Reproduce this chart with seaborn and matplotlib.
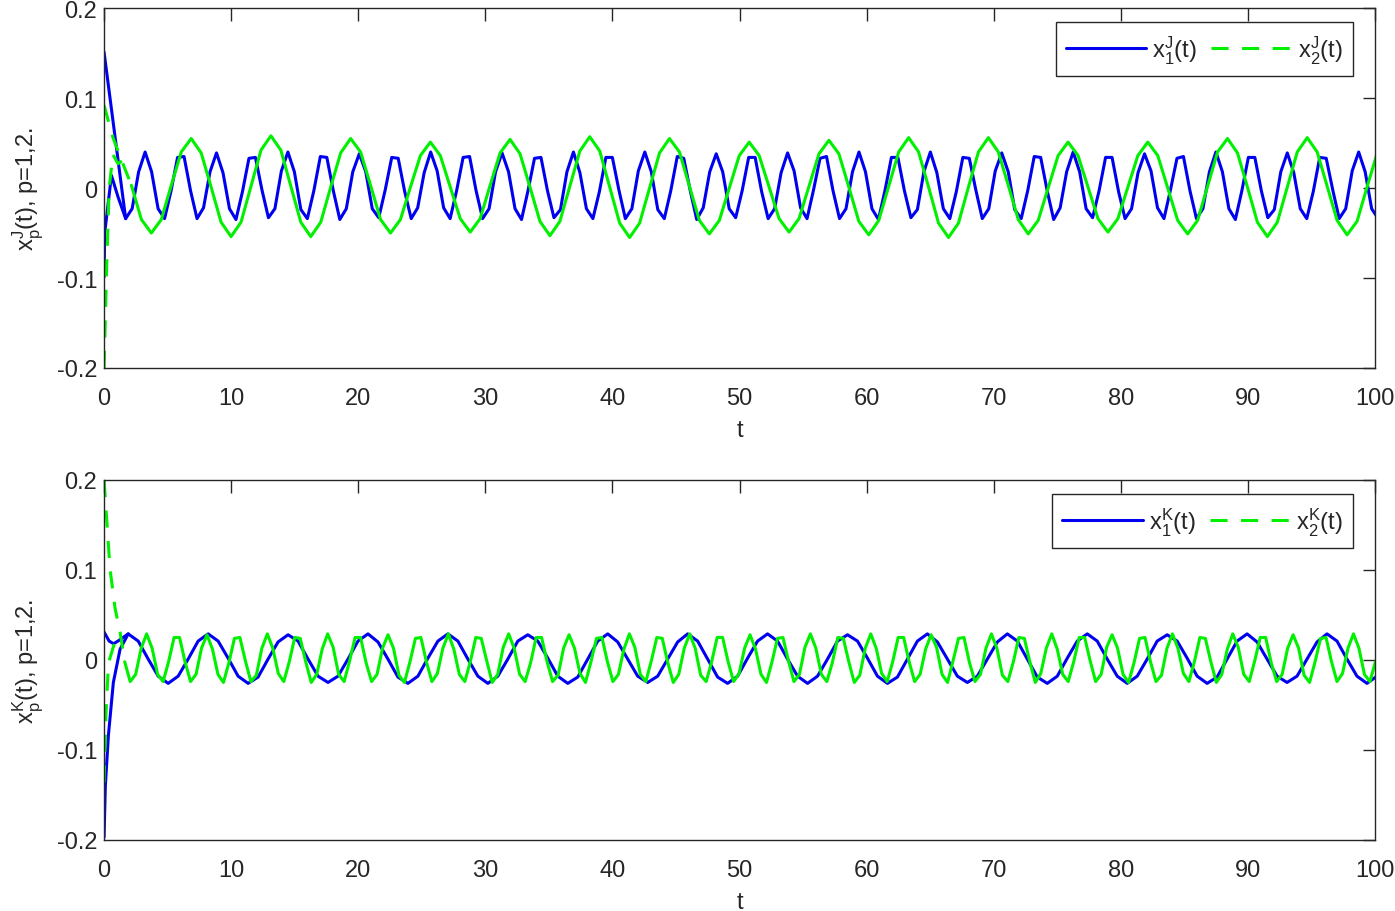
import numpy as np
import matplotlib
matplotlib.use("Agg")
import matplotlib.pyplot as plt
import seaborn as sns
from matplotlib.lines import Line2D

# ---------------- top panel: x^J ----------------
# x1^J: start of the run, then regular samples (BJ_T0 + k * BJ_STEP)
BJ_START_T = [0.0, 0.85]
BJ_START_X = [0.151, 0.058]
BJ_T0, BJ_STEP = 1.698, 0.5106
BJ_X = [
    -0.034, -0.023, 0.018,
    0.040, 0.018, -0.023, -0.034, -0.003, 0.034, 0.035, -0.003, -0.034, -0.022, 0.018,
    0.039, 0.017, -0.023, -0.035, -0.004, 0.033, 0.034, -0.002, -0.033, -0.023, 0.019,
    0.040, 0.018, -0.024, -0.034, -0.003, 0.035, 0.034, -0.003, -0.035, -0.023, 0.018,
    0.038, 0.018, -0.023, -0.033, -0.002, 0.034, 0.033, -0.004, -0.034, -0.022, 0.017,
    0.040, 0.019, -0.022, -0.034, -0.003, 0.034, 0.035, -0.003, -0.034, -0.023, 0.018,
    0.039, 0.018, -0.023, -0.035, -0.003, 0.033, 0.034, -0.003, -0.033, -0.024, 0.018,
    0.040, 0.017, -0.023, -0.034, -0.004, 0.034, 0.034, -0.002, -0.034, -0.023, 0.019,
    0.040, 0.018, -0.024, -0.034, -0.003, 0.035, 0.033, -0.003, -0.035, -0.022, 0.018,
    0.038, 0.018, -0.023, -0.033, -0.003, 0.034, 0.034, -0.004, -0.034, -0.023, 0.017,
    0.039, 0.019, -0.022, -0.034, -0.002, 0.033, 0.035, -0.003, -0.034, -0.023, 0.018,
    0.040, 0.018, -0.023, -0.035, -0.003, 0.034, 0.034, -0.003, -0.033, -0.024, 0.018,
    0.040, 0.017, -0.023, -0.034, -0.004, 0.034, 0.033, -0.002, -0.034, -0.023, 0.019,
    0.039, 0.018, -0.024, -0.034, -0.003, 0.035, 0.034, -0.003, -0.035, -0.022, 0.018,
    0.040, 0.018, -0.023, -0.033, -0.003, 0.034, 0.034, -0.004, -0.034, -0.023, 0.017,
    0.038, 0.019, -0.022, -0.034, -0.002, 0.033, 0.035, -0.003, -0.034, -0.023, 0.018,
    0.040, 0.018, -0.023, -0.035, -0.003, 0.034, 0.034, -0.003, -0.033, -0.024, 0.018,
    0.039, 0.017, -0.023, -0.034, -0.004, 0.034, 0.033, -0.002, -0.034, -0.023, 0.019,
    0.040, 0.018, -0.023, -0.034,
]
BJ_BRANCH_T = [0.0, 0.05, 0.58, 1.1, 1.698]
BJ_BRANCH_X = [-0.099, -0.050, 0.014, -0.010, -0.034]

# x2^J
GJ_START_T = [0.0, 0.7, 1.4]
GJ_START_X = [0.092, 0.056, 0.030]
GJ_T0, GJ_STEP = 2.152, 0.784
GJ_X = [
    0.003, -0.035,
    -0.050, -0.035, 0.003, 0.040, 0.055, 0.039, 0.001, -0.038,
    -0.054, -0.038, 0.002, 0.042, 0.058, 0.042, 0.002, -0.038,
    -0.054, -0.038, 0.001, 0.039, 0.055, 0.040, 0.003, -0.035,
    -0.050, -0.035, 0.001, 0.036, 0.051, 0.036, 0.001, -0.034,
    -0.049, -0.034, 0.003, 0.039, 0.054, 0.038, 0.001, -0.037,
    -0.053, -0.037, 0.002, 0.041, 0.057, 0.041, 0.001, -0.039,
    -0.055, -0.039, 0.000, 0.039, 0.055, 0.040, 0.002, -0.036,
    -0.051, -0.036, 0.000, 0.036, 0.051, 0.036, 0.001, -0.034,
    -0.049, -0.034, 0.002, 0.038, 0.053, 0.038, 0.001, -0.037,
    -0.052, -0.036, 0.002, 0.040, 0.056, 0.040, 0.001, -0.039,
    -0.055, -0.039, 0.001, 0.040, 0.056, 0.040, 0.003, -0.035,
    -0.051, -0.036, 0.000, 0.036, 0.051, 0.036, 0.001, -0.034,
    -0.049, -0.034, 0.001, 0.036, 0.051, 0.036, 0.000, -0.036,
    -0.051, -0.036, 0.002, 0.040, 0.055, 0.039, 0.001, -0.038,
    -0.054, -0.038, 0.001, 0.040, 0.056, 0.040, 0.002, -0.036,
    -0.052, -0.037, 0.001, 0.038,
]
GJ_BRANCH_T = [0.0, 0.2, 0.4, 0.7, 1.1, 1.4]
GJ_BRANCH_X = [-0.200, -0.090, 0.000, 0.037, 0.027, 0.030]

# ---------------- bottom panel: x^K ----------------
BK_START_T = [0.0, 0.4, 0.75, 1.2]
BK_START_X = [0.031, 0.021, 0.018, 0.022]
BK_T0, BK_STEP = 1.9, 0.786
BK_X = [
    0.029, 0.021, 0.001, -0.018, -0.026, -0.018, 0.001, 0.021,
    0.029, 0.021, 0.002, -0.018, -0.026, -0.019, 0.001, 0.020,
    0.028, 0.021, 0.001, -0.018, -0.025, -0.018, 0.001, 0.021,
    0.029, 0.020, 0.001, -0.019, -0.026, -0.018, 0.002, 0.021,
    0.029, 0.021, 0.001, -0.018, -0.026, -0.018, 0.001, 0.021,
    0.028, 0.021, 0.002, -0.018, -0.026, -0.019, 0.001, 0.021,
    0.029, 0.020, 0.001, -0.018, -0.025, -0.018, 0.001, 0.020,
    0.029, 0.021, 0.001, -0.019, -0.026, -0.018, 0.002, 0.021,
    0.029, 0.021, 0.001, -0.018, -0.026, -0.018, 0.001, 0.021,
    0.028, 0.021, 0.002, -0.018, -0.026, -0.019, 0.001, 0.021,
    0.029, 0.020, 0.001, -0.018, -0.025, -0.018, 0.001, 0.020,
    0.029, 0.021, 0.001, -0.019, -0.026, -0.018, 0.002, 0.021,
    0.029, 0.021, 0.001, -0.018, -0.026, -0.018, 0.001, 0.021,
    0.028, 0.021, 0.002, -0.018, -0.026, -0.019, 0.001, 0.021,
    0.029, 0.020, 0.001, -0.018, -0.025, -0.018, 0.001, 0.020,
    0.029, 0.021, 0.001, -0.018, -0.026, -0.018,
]
BK_BRANCH_T = [0.0, 0.1, 0.34, 0.73, 1.26, 1.9]
BK_BRANCH_X = [-0.197, -0.140, -0.084, -0.025, 0.012, 0.029]

GK_START_T = [0.0, 0.47, 0.87, 1.26]
GK_START_X = [0.200, 0.101, 0.057, 0.031]
GK_T0, GK_STEP = 1.6236, 0.4316
GK_X = [
    -0.002, -0.024, -0.016, 0.013,
    0.029, 0.013, -0.016, -0.024, -0.002, 0.025, 0.025, -0.002, -0.024, -0.016, 0.013,
    0.028, 0.012, -0.016, -0.025, -0.003, 0.024, 0.025, -0.001, -0.024, -0.017, 0.013,
    0.029, 0.013, -0.015, -0.024, -0.002, 0.025, 0.024, -0.002, -0.025, -0.016, 0.012,
    0.029, 0.014, -0.016, -0.024, -0.001, 0.025, 0.025, -0.003, -0.024, -0.016, 0.013,
    0.028, 0.013, -0.017, -0.025, -0.002, 0.024, 0.025, -0.002, -0.024, -0.015, 0.013,
    0.029, 0.012, -0.016, -0.024, -0.002, 0.025, 0.024, -0.001, -0.025, -0.016, 0.014,
    0.029, 0.013, -0.016, -0.024, -0.003, 0.025, 0.025, -0.002, -0.024, -0.017, 0.013,
    0.028, 0.013, -0.015, -0.025, -0.002, 0.024, 0.025, -0.002, -0.024, -0.016, 0.012,
    0.029, 0.014, -0.016, -0.024, -0.001, 0.025, 0.024, -0.003, -0.025, -0.016, 0.013,
    0.029, 0.013, -0.017, -0.024, -0.002, 0.025, 0.025, -0.002, -0.024, -0.015, 0.013,
    0.028, 0.012, -0.016, -0.025, -0.002, 0.024, 0.025, -0.001, -0.024, -0.016, 0.014,
    0.029, 0.013, -0.016, -0.024, -0.003, 0.025, 0.024, -0.002, -0.025, -0.017, 0.013,
    0.029, 0.013, -0.015, -0.024, -0.002, 0.025, 0.025, -0.002, -0.024, -0.016, 0.012,
    0.028, 0.014, -0.016, -0.025, -0.001, 0.024, 0.025, -0.003, -0.024, -0.016, 0.013,
    0.029, 0.013, -0.017, -0.024, -0.002, 0.025, 0.024, -0.002, -0.025, -0.015, 0.013,
    0.029, 0.012, -0.016, -0.024, -0.002, 0.025, 0.025, -0.001, -0.024, -0.016, 0.014,
    0.028, 0.013, -0.016, -0.025, -0.003, 0.024, 0.025, -0.002, -0.024, -0.017, 0.013,
    0.029, 0.013, -0.015, -0.024, -0.002, 0.025, 0.024, -0.002, -0.025, -0.016, 0.012,
    0.029, 0.014, -0.016, -0.024, -0.001, 0.025, 0.025, -0.003, -0.024, -0.016, 0.013,
    0.028, 0.013, -0.017, -0.025, -0.002, 0.024, 0.025, -0.002, -0.024, -0.015, 0.013,
    0.029, 0.013, -0.016, -0.024, -0.002,
]
GK_BRANCH_T = [0.0, 0.15, 0.35, 0.85, 1.26]
GK_BRANCH_X = [-0.136, -0.060, -0.003, 0.020, 0.031]

X_TICKS = list(range(0, 101, 10))
Y_TICKS = [-0.2, -0.1, 0, 0.1, 0.2]
Y_TICK_LABELS = ["-0.2", "-0.1", "0", "0.1", "0.2"]

BLUE = "#0000f0"
GREEN = "#00f000"
LW = 2.2
FS = 17


def grid_times(t0, step, n):
    return t0 + step * np.arange(n)


def trace(ax, t, x, color, dashed=False):
    sns.lineplot(x=np.asarray(t, float), y=np.asarray(x, float), ax=ax,
                 color=color, linewidth=LW, estimator=None, sort=False,
                 linestyle="--" if dashed else "-")


def panel(ax, sup, blue, green):
    (b_st_t, b_st_x, b_t0, b_step, b_x, b_br_t, b_br_x) = blue
    (g_st_t, g_st_x, g_t0, g_step, g_x, g_br_t, g_br_x) = green

    bt = list(b_st_t) + list(grid_times(b_t0, b_step, len(b_x)))
    bx = list(b_st_x) + list(b_x)
    trace(ax, bt, bx, BLUE)
    trace(ax, b_br_t, b_br_x, BLUE)

    gt = list(g_st_t) + list(grid_times(g_t0, g_step, len(g_x)))
    gx = list(g_st_x) + list(g_x)
    n0 = len(g_st_t)
    # the steep start of x2 shows its dashes, the dense part reads as solid
    trace(ax, gt[:n0 + 1], gx[:n0 + 1], GREEN, dashed=True)
    trace(ax, gt[n0:], gx[n0:], GREEN)
    trace(ax, g_br_t, g_br_x, GREEN, dashed=True)

    ax.set_xlim(0, 100)
    ax.set_ylim(-0.2, 0.2)
    ax.set_xticks(X_TICKS)
    ax.set_xticklabels([str(v) for v in X_TICKS])
    ax.set_yticks(Y_TICKS)
    ax.set_yticklabels(Y_TICK_LABELS)
    ax.tick_params(direction="in", length=9, width=1, top=True, right=True,
                   labelsize=FS, colors="#262626")
    ax.tick_params(axis="x", pad=14)
    ax.tick_params(axis="y", pad=5)
    for s in ax.spines.values():
        s.set_visible(True)
        s.set_color("#262626")
        s.set_linewidth(1.0)

    ax.set_xlabel("t", fontsize=FS, labelpad=7)
    ax.set_ylabel("x$_\\mathregular{p}^\\mathregular{%s}$(t), p=1,2." % sup,
                  fontsize=FS, labelpad=8)

    handles = [
        Line2D([], [], color=BLUE, lw=LW, ls="-"),
        Line2D([], [], color=GREEN, lw=LW, ls="--"),
    ]
    labels = ["x$_\\mathregular{1}^\\mathregular{%s}$(t)" % sup,
              "x$_\\mathregular{2}^\\mathregular{%s}$(t)" % sup]
    leg = ax.legend(handles, labels, loc="upper right", ncol=2,
                    bbox_to_anchor=(0.9827, 0.961), borderaxespad=0,
                    fontsize=FS, frameon=True, fancybox=False,
                    edgecolor="#262626", framealpha=1, handlelength=3.4,
                    handletextpad=0.25, columnspacing=0.6, borderpad=0.45)
    leg.get_frame().set_linewidth(1.0)


sns.set_style("white")
plt.rcParams["font.family"] = ["Liberation Sans", "DejaVu Sans"]
plt.rcParams["lines.dashed_pattern"] = [5.6, 4.4]
plt.rcParams["axes.unicode_minus"] = False

fig = plt.figure(figsize=(13.95, 9.12), dpi=100)
ax_top = fig.add_axes([0.0746, 0.5954, 0.9111, 0.3947])
ax_bot = fig.add_axes([0.0746, 0.0779, 0.9111, 0.3947])

panel(ax_top, "J",
      (BJ_START_T, BJ_START_X, BJ_T0, BJ_STEP, BJ_X, BJ_BRANCH_T, BJ_BRANCH_X),
      (GJ_START_T, GJ_START_X, GJ_T0, GJ_STEP, GJ_X, GJ_BRANCH_T, GJ_BRANCH_X))
panel(ax_bot, "K",
      (BK_START_T, BK_START_X, BK_T0, BK_STEP, BK_X, BK_BRANCH_T, BK_BRANCH_X),
      (GK_START_T, GK_START_X, GK_T0, GK_STEP, GK_X, GK_BRANCH_T, GK_BRANCH_X))

fig.savefig("out.png", dpi=100)
